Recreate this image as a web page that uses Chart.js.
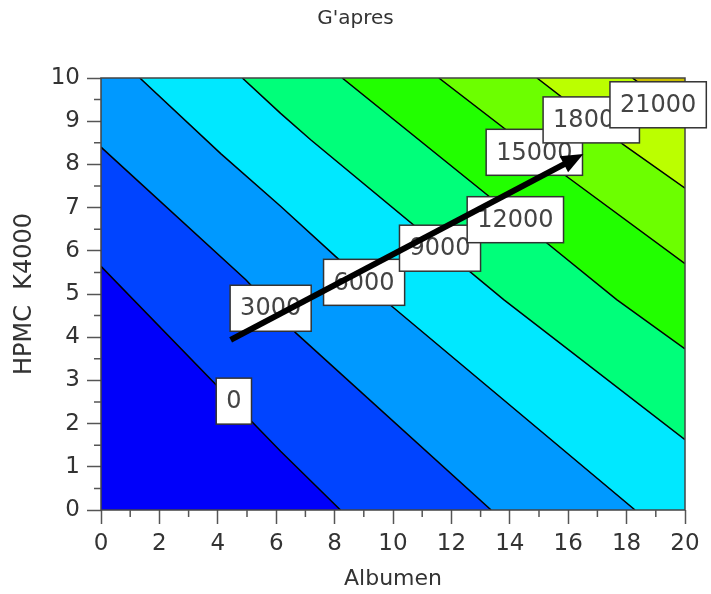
<!DOCTYPE html>
<html>
<head>
<meta charset="utf-8">
<script src="https://cdn.jsdelivr.net/npm/chart.js@4.4.1/dist/chart.umd.min.js"></script>
<style>
  html, body { margin: 0; padding: 0; background: #fff; }
  #wrap { width: 711px; height: 594px; }
</style>
</head>
<body>
<div id="wrap"><canvas id="c" width="711" height="594"></canvas></div>
<script>
// Axis ranges (Albumen on x, HPMC K4000 on y)
const xRange = [0, 20];
const yRange = [0, 10];

// Contour levels of G'apres
const levels = [0, 3000, 6000, 9000, 12000, 15000, 18000, 21000];

// Contour lines as [Albumen, HPMC K4000] points, from the upper-left edge to the lower-right edge
const contour0     = [[0, 5.64], [6.15, 1.36], [8.2, 0]];
const contour3000  = [[0, 8.40], [4.96, 5.33], [6.67, 4.10], [13.36, 0]];
const contour6000  = [[1.33, 10], [4.1, 8.25], [6.15, 7.03], [8.03, 5.87], [9.97, 4.71], [18.29, 0]];
const contour9000  = [[4.84, 10], [6.15, 9.18], [7.18, 8.57], [13.79, 4.87], [20, 1.63]];
const contour12000 = [[8.26, 10], [15.27, 6.18], [17.66, 4.87], [20, 3.73]];
const contour15000 = [[11.57, 10], [15.95, 7.72], [20, 5.70]];
const contour18000 = [[14.93, 10], [17.89, 8.46], [20, 7.45]];
const contour21000 = [[18.2, 10], [20, 9.1]];
const contourLines = [contour0, contour3000, contour6000, contour9000,
                      contour12000, contour15000, contour18000, contour21000];

// Where each level's label sits (box centre)
const labelX = [4.55, 5.81, 9.01, 11.61, 14.19, 14.84, 16.79, 19.08];
const labelY = [2.52, 4.67, 5.27, 6.06, 6.72, 8.28, 9.03, 9.38];

// Direction-of-increase arrow
const arrowStart = [4.44, 3.94];
const arrowEnd = [16.52, 8.24];

// Fill colour of each band, lowest level first
const bandColors = ['#0000FA', '#0044FF', '#0099FF', '#00E8FF', '#00FF7A',
                    '#22FF00', '#6CFF00', '#BBFF00', '#C8BE00'];

const pts = arr => arr.map(([x, y]) => ({ x, y }));
const [x0, x1] = xRange, [y0, y1] = yRange;

// Whole plotting frame, then the region above/right of each contour closed along the frame
const frameShape = [[x0, y0], [x1, y0], [x1, y1], [x0, y1]];
const regionAbove = line => line.concat([[x1, y0], [x1, y1], [x0, y1]]);

const bandShapes = [frameShape].concat(contourLines.map(regionAbove));

const datasets = [];
bandShapes.forEach((shape, i) => {
  datasets.push({
    data: pts(shape),
    fill: 'shape',
    backgroundColor: bandColors[i],
    borderWidth: 0,
    pointRadius: 0,
    tension: 0,
    order: 100 - i
  });
});
contourLines.forEach((line, i) => {
  datasets.push({
    data: pts(line),
    fill: false,
    borderColor: '#000',
    borderWidth: 1.5,
    pointRadius: 0,
    tension: 0,
    order: 10 - i
  });
});

const textColor = '#333';
const tickColor = '#555';
const fontFamily = '"DejaVu Sans", sans-serif';

const overlay = {
  id: 'overlay',
  afterDatasetsDraw(chart) {
    const { ctx, chartArea: a, scales: { x, y } } = chart;
    ctx.save();

    // plot frame
    ctx.strokeStyle = '#444';
    ctx.lineWidth = 1.5;
    ctx.strokeRect(a.left, a.top, a.right - a.left, a.bottom - a.top);

    // minor ticks between the labelled ones
    ctx.strokeStyle = tickColor;
    ctx.lineWidth = 1.5;
    ctx.beginPath();
    for (let v = x0 + 1; v < x1; v += 2) {
      const px = x.getPixelForValue(v);
      ctx.moveTo(px, a.bottom);
      ctx.lineTo(px, a.bottom + 7);
    }
    for (let v = y0 + 0.5; v < y1; v += 1) {
      const py = y.getPixelForValue(v);
      ctx.moveTo(a.left, py);
      ctx.lineTo(a.left - 7, py);
    }
    ctx.stroke();

    // contour level labels
    ctx.font = '24px ' + fontFamily;
    ctx.textAlign = 'center';
    ctx.textBaseline = 'middle';
    levels.forEach((lv, i) => {
      const cx = x.getPixelForValue(labelX[i]);
      const cy = y.getPixelForValue(labelY[i]);
      const t = String(lv);
      const w = ctx.measureText(t).width + 20;
      const h = 46;
      ctx.fillStyle = '#fff';
      ctx.fillRect(cx - w / 2, cy - h / 2, w, h);
      ctx.strokeStyle = '#333';
      ctx.lineWidth = 1.5;
      ctx.strokeRect(cx - w / 2, cy - h / 2, w, h);
      ctx.fillStyle = '#444';
      ctx.fillText(t, cx, cy + 1);
    });

    // arrow
    const sx = x.getPixelForValue(arrowStart[0]), sy = y.getPixelForValue(arrowStart[1]);
    const ex = x.getPixelForValue(arrowEnd[0]), ey = y.getPixelForValue(arrowEnd[1]);
    const ang = Math.atan2(ey - sy, ex - sx);
    const headLen = 22, headHalf = 9;
    const bx = ex - headLen * Math.cos(ang), by = ey - headLen * Math.sin(ang);
    ctx.strokeStyle = '#000';
    ctx.fillStyle = '#000';
    ctx.lineWidth = 6;
    ctx.lineCap = 'butt';
    ctx.beginPath();
    ctx.moveTo(sx, sy);
    ctx.lineTo(bx + 2 * Math.cos(ang), by + 2 * Math.sin(ang));
    ctx.stroke();
    ctx.beginPath();
    ctx.moveTo(ex, ey);
    ctx.lineTo(bx + headHalf * Math.sin(ang), by - headHalf * Math.cos(ang));
    ctx.lineTo(bx - headHalf * Math.sin(ang), by + headHalf * Math.cos(ang));
    ctx.closePath();
    ctx.fill();

    ctx.restore();
  }
};

new Chart(document.getElementById('c'), {
  type: 'line',
  data: { datasets },
  options: {
    responsive: false,
    animation: false,
    devicePixelRatio: 1,
    layout: { padding: 0 },
    plugins: {
      legend: { display: false },
      tooltip: { enabled: false },
      title: {
        display: true,
        text: "G'apres",
        color: textColor,
        font: { family: fontFamily, size: 20, weight: 'normal' },
        padding: { top: 7, bottom: 47 }
      }
    },
    scales: {
      x: {
        type: 'linear',
        min: x0, max: x1,
        afterFit: s => { s.height = 84; },
        ticks: { stepSize: 2, color: textColor, padding: 6, font: { family: fontFamily, size: 23 } },
        grid: { drawOnChartArea: false, drawTicks: true, tickLength: 14, tickWidth: 1.5, tickColor: tickColor },
        border: { display: false },
        title: { display: true, text: 'Albumen', color: textColor,
                 font: { family: fontFamily, size: 22 }, padding: { top: 0, bottom: 2 } }
      },
      y: {
        type: 'linear',
        min: y0, max: y1,
        afterFit: s => { s.width = 101; },
        ticks: { stepSize: 1, color: textColor, padding: 7, font: { family: fontFamily, size: 23 } },
        grid: { drawOnChartArea: false, drawTicks: true, tickLength: 14, tickWidth: 1.5, tickColor: tickColor },
        border: { display: false },
        title: { display: true, text: 'HPMC  K4000', color: textColor,
                 font: { family: fontFamily, size: 24 }, padding: { top: 10, bottom: 0 } }
      },
      // empty margin on the right of the plot
      yRight: {
        type: 'linear',
        position: 'right',
        display: true,
        min: y0, max: y1,
        afterFit: s => { s.width = 26; },
        ticks: { display: false },
        grid: { display: false },
        border: { display: false }
      }
    }
  },
  plugins: [overlay]
});
</script>
</body>
</html>
